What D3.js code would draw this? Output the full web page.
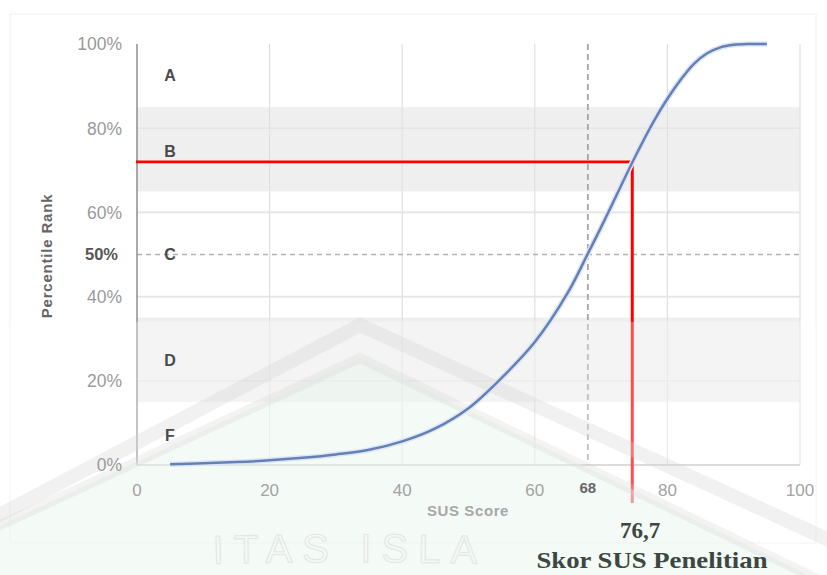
<!DOCTYPE html>
<html><head><meta charset="utf-8">
<script src="https://cdn.jsdelivr.net/npm/d3@7"></script>
<style>body{margin:0;background:#fff}svg{display:block}</style>
</head><body>
<svg id="c" width="827" height="575"></svg>
<script>
// ---- data ----
const curveX = [5,10,15,20,25,30,35,40,45,50,55,60,65,68,70,72,75,78,80,82,84,86,88,90,92,95];
const curveY = [0.2,0.4,0.7,1.1,1.7,2.5,3.6,5.6,8.7,13.5,20.7,29.2,41,50.2,56.5,63,72.8,81.8,87,91.5,95.3,97.8,99.2,99.8,100,100];
const xTicks = [0,20,40,60,80,100];
const yTicks = [0,20,40,60,80,100];
const grades = ["A","B","C","D","F"];
const gradeLabelY = [92.5,74.5,50,25,7];
const bandFrom = [85,65,35,15,0];
const bandTo = [100,85,65,35,15];
const bandShaded = [false,true,false,true,false];
const avgScore = 68;
const avgRank = 50;
const markerX = 74.7;     // position of the red marker on the SUS axis
const markerY = 72.0;     // percentile reached by the red marker
const markerLabel = "76,7";
const markerCaption = "Skor SUS Penelitian";
const watermarkText = "ITAS ISLA";

const FONT = "Liberation Sans, Arial, Helvetica, sans-serif";
const svg = d3.select("#c");
const x = d3.scaleLinear().domain([0,100]).range([137,800]);
const y = d3.scaleLinear().domain([0,100]).range([465,44]);

// faint page frame
svg.append("rect").attr("x",10).attr("y",14).attr("width",806).attr("height",529)
  .attr("fill","none").attr("stroke","#f0f0f0");

// bands
const shaded = grades.map((g,i)=>({g,from:bandFrom[i],to:bandTo[i],s:bandShaded[i]})).filter(d=>d.s);
svg.append("g").selectAll("rect").data(shaded).join("rect")
  .attr("x",x(0)).attr("width",x(100)-x(0))
  .attr("y",d=>y(d.to)).attr("height",d=>y(d.from)-y(d.to))
  .attr("fill","#efefef");

// gridlines
svg.append("g").selectAll("line").data(xTicks.slice(1)).join("line")
  .attr("x1",d=>x(d)).attr("x2",d=>x(d)).attr("y1",y(100)).attr("y2",y(0))
  .attr("stroke","#e0e0e0").attr("stroke-width",1.2);
svg.append("g").selectAll("line").data(yTicks.slice(1,5)).join("line")
  .attr("x1",x(0)).attr("x2",x(100)).attr("y1",d=>y(d)).attr("y2",d=>y(d))
  .attr("stroke","#e4e4e4").attr("stroke-width",1.6);

// dashed reference lines
svg.append("line").attr("x1",x(avgScore)).attr("x2",x(avgScore)).attr("y1",y(100)).attr("y2",y(0))
  .attr("stroke","#a5a5a5").attr("stroke-width",1.8).attr("stroke-dasharray","6,4");
svg.append("line").attr("x1",x(0)).attr("x2",x(100)).attr("y1",y(avgRank)).attr("y2",y(avgRank))
  .attr("stroke","#b0b0b0").attr("stroke-width",1.5).attr("stroke-dasharray","5,4");

// axes lines
svg.append("line").attr("x1",x(0)).attr("x2",x(0)).attr("y1",y(100)).attr("y2",y(0)).attr("stroke","#7d7d7d").attr("stroke-width",1.3);
svg.append("line").attr("x1",x(0)).attr("x2",x(100)).attr("y1",y(0)).attr("y2",y(0)).attr("stroke","#bdbdbd").attr("stroke-width",1.6);

// red marker
svg.append("line").attr("x1",x(0)-1).attr("x2",x(markerX)+1.5).attr("y1",y(markerY)).attr("y2",y(markerY))
  .attr("stroke","#ff0000").attr("stroke-width",2.8);
svg.append("line").attr("x1",x(markerX)).attr("x2",x(markerX)).attr("y1",y(markerY)-1.4).attr("y2",503)
  .attr("stroke","#ff0000").attr("stroke-width",3);

// washed-out lower region (scan overlay) + watermark
svg.append("rect").attr("x",0).attr("y",y(34)).attr("width",827).attr("height",575-y(34))
  .attr("fill","#ffffff").attr("opacity",0.3);
const wm = svg.append("g");
wm.append("path").attr("d","M-10,530 L360,358 L840,590 L840,575 L-10,575 Z").attr("fill","#e6f4ea").attr("opacity",0.45);
wm.append("path").attr("d","M-10,520 L360,325 L840,545").attr("fill","none").attr("stroke","#d4d4d4").attr("stroke-width",14).attr("opacity",0.32);
wm.append("path").attr("d","M-10,530 L360,358 L840,590").attr("fill","none").attr("stroke","#d4d4d4").attr("stroke-width",10).attr("opacity",0.28);
svg.append("defs").append("path").attr("id","arc").attr("d","M150,566 Q350,558 550,566");
wm.append("text").attr("font-family",FONT).attr("font-size",40).attr("fill","none")
  .attr("stroke","#dcdcdc").attr("stroke-width",1.2).attr("opacity",0.6).attr("letter-spacing",10)
  .append("textPath").attr("href","#arc").attr("startOffset","50%").attr("text-anchor","middle").text(watermarkText);

// grade letters
svg.append("g").selectAll("text").data(grades).join("text")
  .attr("x",x(0)+33).attr("y",(d,i)=>y(gradeLabelY[i])).attr("dy","0.36em")
  .attr("text-anchor","middle").attr("font-family",FONT)
  .attr("font-size",16).attr("font-weight","bold").attr("fill","#4a4a4a").text(d=>d);

// curve
const pts = curveX.map((v,i)=>[v,curveY[i]]);
const line = d3.line().x(d=>x(d[0])).y(d=>y(d[1])).curve(d3.curveCatmullRom.alpha(0.5));
svg.append("path").attr("d",line(pts)).attr("fill","none").attr("stroke","#dde6f5").attr("stroke-width",5.5);
svg.append("path").attr("d",line(pts)).attr("fill","none").attr("stroke","#6580b6").attr("stroke-width",2.5);

// y tick labels
svg.append("g").selectAll("text").data(yTicks).join("text")
  .attr("x",122).attr("y",d=>y(d)).attr("dy","0.36em").attr("text-anchor","end")
  .attr("font-family",FONT).attr("font-size",17.5).attr("fill","#9a9a9a")
  .text(d=>d+"%");
svg.append("text").attr("x",118).attr("y",y(avgRank)).attr("dy","0.36em").attr("text-anchor","end")
  .attr("font-family",FONT).attr("font-size",16.5).attr("font-weight","bold").attr("fill","#555")
  .text(avgRank+"%");

// x tick labels
svg.append("g").selectAll("text").data(xTicks).join("text")
  .attr("x",d=>x(d)).attr("y",490).attr("dy","0.36em").attr("text-anchor","middle")
  .attr("font-family",FONT).attr("font-size",17).attr("fill","#a3a3a3")
  .text(d=>d);
svg.append("text").attr("x",x(avgScore)).attr("y",488).attr("dy","0.36em").attr("text-anchor","middle")
  .attr("font-family",FONT).attr("font-size",15).attr("font-weight","bold").attr("fill","#666")
  .text(avgScore);

// axis titles
svg.append("text").attr("x",468).attr("y",511).attr("dy","0.36em").attr("text-anchor","middle")
  .attr("font-family",FONT).attr("font-size",15).attr("font-weight","bold").attr("fill","#a8a8a8")
  .attr("letter-spacing",0.6).text("SUS Score");
svg.append("text").attr("transform","translate(47,256) rotate(-90)").attr("dy","0.36em").attr("text-anchor","middle")
  .attr("font-family",FONT).attr("font-size",15).attr("font-weight","bold").attr("fill","#666")
  .attr("letter-spacing",0.8).text("Percentile Rank");

// caption
svg.append("text").attr("x",640).attr("y",530).attr("dy","0.36em").attr("text-anchor","middle")
  .attr("font-family","Liberation Serif, Times New Roman, serif").attr("font-size",23).attr("font-weight","bold").attr("fill","#3b4841")
  .text(markerLabel);
svg.append("text").attr("x",652).attr("y",560).attr("dy","0.36em").attr("text-anchor","middle")
  .attr("font-family","Liberation Serif, Times New Roman, serif").attr("font-size",23).attr("font-weight","bold").attr("fill","#3b4841")
  .attr("textLength",231).attr("lengthAdjust","spacingAndGlyphs")
  .text(markerCaption);
</script>
</body></html>
